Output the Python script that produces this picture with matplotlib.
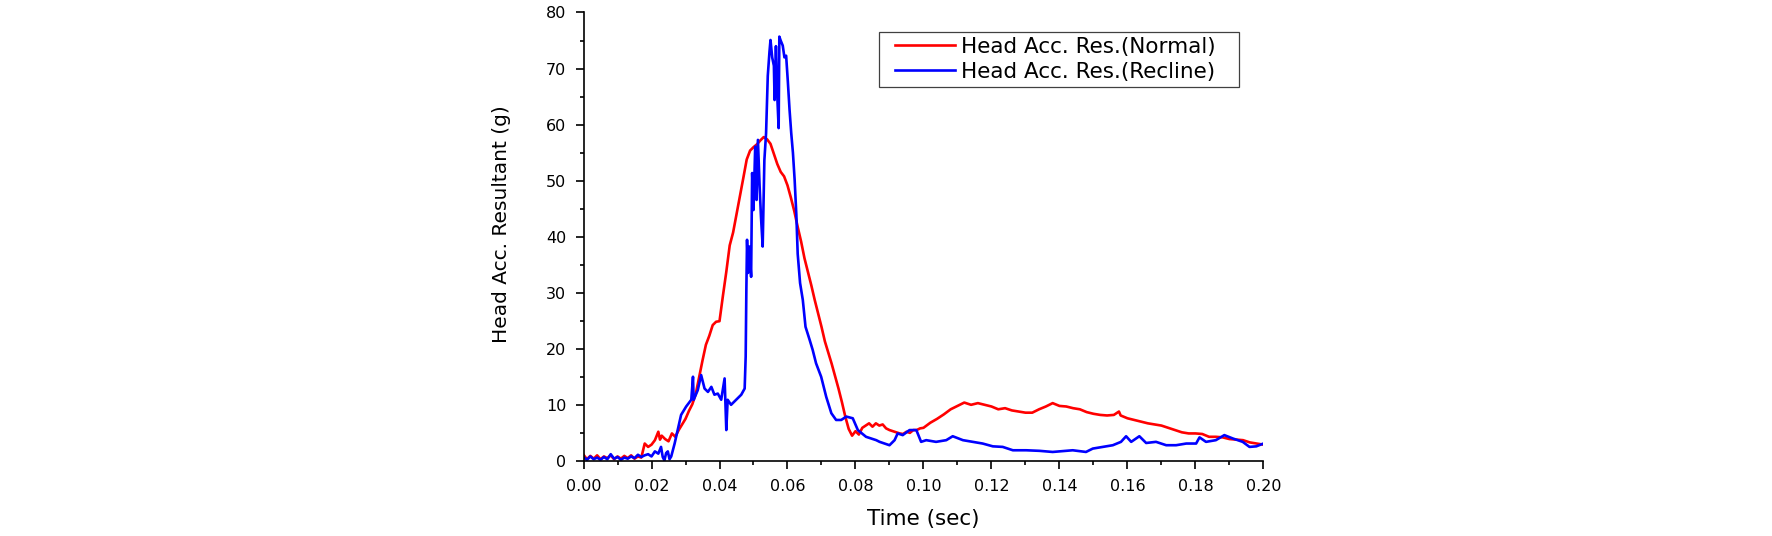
import numpy as np
from matplotlib import pyplot as plt
from matplotlib.ticker import MultipleLocator, FormatStrFormatter
from matplotlib.legend_handler import HandlerLine2D

"""
Head acceleration resultant, normal vs. recline seat position.
Values read off the reference chart.
"""

# Normal seat (red)
t_normal = [0.000, 0.001, 0.002, 0.003, 0.004, 0.005, 0.006, 0.007, 0.008, 0.009,
            0.010, 0.011, 0.012, 0.013, 0.014, 0.015, 0.016, 0.017, 0.018, 0.019,
            0.020, 0.021, 0.022, 0.0225, 0.023, 0.024, 0.025, 0.026, 0.027, 0.028,
            0.029, 0.030, 0.031, 0.032, 0.033, 0.034, 0.035, 0.036, 0.037, 0.038,
            0.039, 0.040, 0.041, 0.042, 0.043, 0.044, 0.045, 0.046, 0.047, 0.048,
            0.049, 0.050, 0.051, 0.052, 0.053, 0.054, 0.055, 0.056, 0.057, 0.058,
            0.059, 0.060, 0.061, 0.062, 0.063, 0.064, 0.065, 0.066, 0.067, 0.068,
            0.069, 0.070, 0.071, 0.072, 0.073, 0.074, 0.075, 0.076, 0.077, 0.078,
            0.079, 0.080, 0.081, 0.082, 0.083, 0.084, 0.085, 0.086, 0.087, 0.088,
            0.089, 0.090, 0.091, 0.092, 0.093, 0.094, 0.095, 0.096, 0.097, 0.098,
            0.099, 0.100, 0.102, 0.104, 0.106, 0.108, 0.110, 0.112, 0.114, 0.116,
            0.118, 0.120, 0.122, 0.124, 0.126, 0.128, 0.130, 0.132, 0.134, 0.136,
            0.138, 0.140, 0.142, 0.144, 0.146, 0.148, 0.150, 0.152, 0.154, 0.156,
            0.1575, 0.158, 0.160, 0.162, 0.164, 0.166, 0.168, 0.170, 0.172, 0.174,
            0.176, 0.178, 0.180, 0.182, 0.184, 0.186, 0.188, 0.190, 0.192, 0.194,
            0.196, 0.198, 0.200]
acc_normal = [1.2, 0.4, 1.0, 0.5, 1.1, 0.4, 0.9, 0.6, 1.1, 0.4,
              0.9, 0.5, 1.0, 0.6, 1.1, 0.5, 0.9, 0.7, 3.2, 2.6,
              3.0, 3.8, 5.3, 3.9, 4.6, 4.0, 3.6, 5.0, 4.4, 5.6,
              6.6, 7.6, 9.0, 10.2, 12.0, 15.0, 18.0, 20.8, 22.4, 24.3,
              24.9, 25.0, 29.5, 33.8, 38.5, 40.8, 44.0, 47.3, 50.5, 53.8,
              55.4, 56.0, 56.5, 57.2, 57.8, 57.4, 56.6, 54.8, 53.0, 51.6,
              50.8, 49.2, 47.0, 44.6, 41.8, 39.2, 36.2, 33.8, 31.4, 28.8,
              26.4, 24.0, 21.4, 19.4, 17.4, 15.2, 13.0, 10.6, 8.0, 5.8,
              4.6, 5.4, 4.8, 6.0, 6.4, 6.8, 6.2, 6.8, 6.4, 6.6,
              5.9, 5.6, 5.4, 5.2, 5.0, 4.9, 5.3, 5.1, 5.6, 5.6,
              5.9, 6.0, 6.9, 7.6, 8.4, 9.3, 9.9, 10.5, 10.1, 10.4,
              10.1, 9.8, 9.3, 9.5, 9.1, 8.9, 8.7, 8.7, 9.3, 9.8,
              10.4, 9.9, 9.8, 9.5, 9.3, 8.8, 8.5, 8.3, 8.2, 8.3,
              8.9, 8.2, 7.7, 7.4, 7.1, 6.8, 6.6, 6.4, 6.0, 5.6,
              5.2, 5.0, 5.0, 4.9, 4.4, 4.4, 4.3, 4.0, 3.9, 3.8,
              3.4, 3.2, 3.0]

# Recline seat (blue)
t_recline = [0.000, 0.001, 0.002, 0.003, 0.004, 0.005, 0.006, 0.007, 0.008, 0.009,
             0.010, 0.011, 0.012, 0.013, 0.014, 0.015, 0.016, 0.017, 0.018, 0.019,
             0.020, 0.021, 0.022, 0.0228, 0.0233, 0.0238, 0.0243, 0.0248, 0.0253, 0.0258,
             0.0268, 0.0277, 0.0287, 0.0302, 0.0317, 0.0322, 0.0324, 0.0336, 0.0346, 0.0356,
             0.0366, 0.0376, 0.0385, 0.0395, 0.0405, 0.0415, 0.0420, 0.0424, 0.0434, 0.0449,
             0.0464, 0.0474, 0.0477, 0.0479, 0.0481, 0.0484, 0.0488, 0.0493, 0.0496, 0.0500,
             0.0505, 0.0509, 0.0513, 0.0518, 0.0522, 0.0527, 0.0532, 0.0537, 0.0542, 0.0547,
             0.0550, 0.0555, 0.0560, 0.0562, 0.0566, 0.0570, 0.0574, 0.0576, 0.0580, 0.0586,
             0.0591, 0.0596, 0.0601, 0.0606, 0.0611, 0.0616, 0.0621, 0.0626, 0.0630, 0.0637,
             0.0645, 0.0653, 0.0665, 0.0674, 0.0684, 0.0699, 0.0714, 0.0729, 0.0743, 0.0758,
             0.0773, 0.0792, 0.0807, 0.0831, 0.0861, 0.0871, 0.0900, 0.0915, 0.0924, 0.0939,
             0.0959, 0.0979, 0.0993, 0.1008, 0.1037, 0.1067, 0.1086, 0.1116, 0.1145, 0.1174,
             0.1204, 0.1233, 0.1263, 0.1302, 0.1341, 0.1380, 0.1420, 0.1439, 0.1478, 0.1498,
             0.1527, 0.1557, 0.1581, 0.1596, 0.1611, 0.1635, 0.1655, 0.1684, 0.1714, 0.1743,
             0.1773, 0.1802, 0.1812, 0.1831, 0.1860, 0.1885, 0.1910, 0.1939, 0.1959, 0.1979,
             0.2000]
acc_recline = [0.8, 0.3, 0.9, 0.4, 0.7, 0.3, 0.8, 0.4, 1.3, 0.5,
               0.8, 0.3, 0.7, 0.5, 0.9, 0.6, 1.2, 0.8, 1.1, 1.3,
               0.9, 1.8, 1.4, 2.6, 0.8, 0.2, 1.5, 1.8, 0.4, 0.9,
               3.2, 5.6, 8.3, 9.8, 11.0, 15.1, 11.0, 12.7, 15.4, 13.0,
               12.4, 13.3, 11.9, 12.1, 11.0, 14.8, 5.6, 11.0, 10.1, 11.0,
               11.9, 13.0, 18.7, 30.6, 39.5, 33.6, 38.3, 32.9, 51.4, 44.8,
               56.1, 46.6, 57.3, 49.0, 43.6, 38.3, 53.7, 58.5, 68.7, 73.0,
               75.1, 72.0, 70.5, 64.4, 74.0, 65.0, 59.4, 75.7, 75.0, 74.1,
               72.0, 72.3, 67.7, 62.7, 58.5, 55.0, 50.2, 44.0, 37.0, 31.8,
               28.8, 24.0, 21.7, 19.9, 17.5, 15.1, 11.5, 8.6, 7.4, 7.4,
               8.0, 7.7, 5.6, 4.4, 3.8, 3.5, 2.9, 3.8, 5.0, 4.7,
               5.6, 5.6, 3.5, 3.8, 3.5, 3.8, 4.5, 3.8, 3.5, 3.2,
               2.7, 2.6, 2.0, 2.0, 1.9, 1.7, 1.9, 2.0, 1.7, 2.3,
               2.6, 2.9, 3.5, 4.5, 3.5, 4.5, 3.3, 3.5, 2.9, 2.9,
               3.2, 3.2, 4.3, 3.5, 3.8, 4.7, 4.1, 3.5, 2.6, 2.7,
               3.2]

fig = plt.figure(figsize=(17.72, 5.36), dpi=100)
ax = fig.add_axes([0.3293, 0.1390, 0.3837, 0.8377])

ax.plot(t_normal, acc_normal, color="#ff0000", lw=1.9, label="Head Acc. Res.(Normal)")
ax.plot(t_recline, acc_recline, color="#0000ff", lw=1.9, label="Head Acc. Res.(Recline)")

# Axes range and ticks
ax.set_xlim(0, 0.2)
ax.set_ylim(0, 80)
ax.xaxis.set_major_locator(MultipleLocator(0.02))
ax.xaxis.set_minor_locator(MultipleLocator(0.01))
ax.xaxis.set_major_formatter(FormatStrFormatter("%.2f"))
ax.yaxis.set_major_locator(MultipleLocator(10))
ax.yaxis.set_minor_locator(MultipleLocator(5))

ax.spines["top"].set_visible(False)
ax.spines["right"].set_visible(False)
for side in ["left", "bottom"]:
    ax.spines[side].set_linewidth(1.2)
ax.tick_params(which="major", direction="out", length=6, width=1.2, labelsize=11.5, pad=6.5)
ax.tick_params(which="minor", direction="out", length=3, width=1.2)

ax.set_xlabel("Time (sec)", fontsize=15.5)
ax.xaxis.set_label_coords(0.5, -0.105)
ax.set_ylabel("Head Acc. Resultant (g)", fontsize=14.5)
ax.yaxis.set_label_coords(-0.1066, 0.529)

# Legend box sits in the upper right part of the plot
legend = ax.legend(loc="upper left",
                   bbox_to_anchor=(879 / 1772, 1 - 87 / 536, 360 / 1772, 55 / 536),
                   bbox_transform=fig.transFigure, mode="expand", borderaxespad=0,
                   fontsize=15.5, fancybox=False, framealpha=1, edgecolor="#404040",
                   borderpad=0.22, labelspacing=0.24, handlelength=3.3, handletextpad=0.28,
                   handler_map={plt.Line2D: HandlerLine2D(xpad=0.53)})
legend.get_frame().set_linewidth(0.9)

fig.savefig("out.png", dpi=100)
